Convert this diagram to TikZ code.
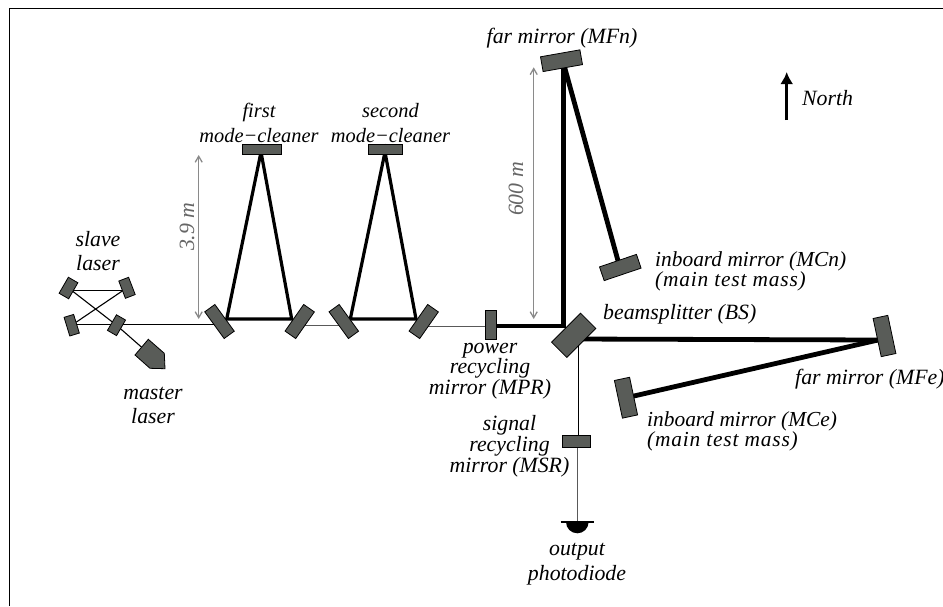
\documentclass[tikz,border=0pt]{standalone}
\usepackage{fontspec}
\setmainfont{Liberation Serif}
\usetikzlibrary{arrows.meta}
\pgfdeclarelayer{beams}
\pgfsetlayers{beams,main}
\definecolor{mirfill}{HTML}{595C58}
\definecolor{dimgray}{HTML}{8A8A8A}
\newcommand{\widelabel}[1]{\addfontfeature{LetterSpace=3.7}#1}
\tikzset{
  mirror/.style={draw=black,line width=0.8pt,fill=mirfill,inner sep=0pt,outer sep=0pt},
  thinbeam/.style={draw=black,line width=1.1pt},
  graybeam/.style={draw=black!65,line width=1.1pt},
  midbeam/.style={draw=black,line width=3.2pt,line join=miter},
  heavybeam/.style={draw=black,line width=4.8pt,line join=miter},
  dimline/.style={draw=dimgray,line width=1.3pt,{Straight Barb[length=6pt,width=7pt]}-{Straight Barb[length=6pt,width=7pt]}},
  lab/.style={font=\itshape\fontsize{21.8}{24.5}\selectfont,align=center,inner sep=0pt},
  labtight/.style={font=\itshape\fontsize{21.8}{19.5}\selectfont,align=center,inner sep=0pt},
  labinboard/.style={font=\itshape\fontsize{21.4}{20}\selectfont,align=left,inner sep=0pt,anchor=west},
  labcleaner/.style={font=\itshape\fontsize{20.4}{25}\selectfont,align=center,inner sep=0pt},
  dimlab/.style={lab,text=black!60,rotate=90}
}
\begin{document}
\begin{tikzpicture}[x=1pt,y=-1pt]
\useasboundingbox (0,0) rectangle (943,606);
% frame
\coordinate (fa) at (9.3,606);
\coordinate (fb) at (9.3,8.7);
\coordinate (fc) at (943,8.7);
\draw[line width=1.1pt] (fa) -- (fb) -- (fc);
% mirrors
\node[mirror,minimum width=39.5pt,minimum height=10pt] (mcat) at (262,149.5) {};
\node[mirror,minimum width=34.5pt,minimum height=10pt] (mcbt) at (385.5,149.5) {};
\node[mirror,minimum width=12.5pt,minimum height=33pt,rotate=36] (mcal) at (219.5,321.5) {};
\node[mirror,minimum width=13pt,minimum height=32.5pt,rotate=-35] (mcar) at (299.7,321.5) {};
\node[mirror,minimum width=12.5pt,minimum height=33pt,rotate=36] (mcbl) at (343.8,321.5) {};
\node[mirror,minimum width=13pt,minimum height=32.5pt,rotate=-35] (mcbr) at (423.7,321.5) {};
\node[mirror,minimum width=11pt,minimum height=18.5pt,rotate=-30] (sa) at (68.5,288) {};
\node[mirror,minimum width=10.5pt,minimum height=18.5pt,rotate=21] (sb) at (127,287.8) {};
\node[mirror,minimum width=10pt,minimum height=19.5pt,rotate=17] (sc) at (71.7,325.2) {};
\node[mirror,minimum width=10.5pt,minimum height=18pt,rotate=-30] (sd) at (116.5,325.2) {};
\node[mirror,minimum width=40pt,minimum height=15pt,rotate=10] (mfn) at (561.5,60.7) {};
\node[mirror,minimum width=39pt,minimum height=14.5pt,rotate=18.7] (mcn) at (620.3,267.5) {};
\node[mirror,minimum width=15pt,minimum height=39pt,rotate=12] (mfe) at (884.5,336) {};
\node[mirror,minimum width=15.5pt,minimum height=38.5pt,rotate=12] (mce) at (626,397.7) {};
\node[mirror,minimum width=11.4pt,minimum height=28.7pt] (mpr) at (491,324.7) {};
\node[mirror,minimum width=28.7pt,minimum height=11.6pt] (msr) at (576.3,441.5) {};
\node[mirror,minimum width=41pt,minimum height=21.5pt,rotate=45] (bs) at (573.7,335.3) {};
% master laser
\coordinate (mast) at (141.7,347.3);
\draw[mirror] (135,355) -- (148.3,339.3) -- (164.3,353.3) -- (165,368.7) -- (150,368.3) -- cycle;
% photodiode
\coordinate (pd) at (577.3,522);
\fill (566,522) arc[start angle=180,end angle=360,radius=11.3pt] -- cycle;
\draw[line width=1.5pt] (560.7,522) -- (594.3,522);
% beam end points
\coordinate (ha) at (226.7,319);
\coordinate (hb) at (291.7,319);
\coordinate (hc) at (350.3,319);
\coordinate (hd) at (416,319);
\coordinate (he) at (261,152);
\coordinate (hf) at (385,152);
\coordinate (mprh) at (491,326);
\coordinate (corner) at (563.7,326);
\coordinate (nt) at (563.7,64);
\coordinate (east) at (878,340);
\coordinate (bse) at (573.7,339);
\coordinate (sal) at (68.5,290.3);
\coordinate (sbl) at (127,290.3);
\coordinate (scl) at (71.7,324.3);
\coordinate (sdl) at (116.5,324.3);
\coordinate (ial) at (219.5,324.3);
\coordinate (g1a) at (299.7,325.7);
\coordinate (g1b) at (343.8,325.7);
\coordinate (g2a) at (423.7,326.3);
\coordinate (g2b) at (491,326.3);
\coordinate (bsd) at (578.7,340);
\coordinate (msra) at (578.7,441.5);
\coordinate (msrb) at (577.3,441.5);
\begin{pgfonlayer}{beams}
\draw[midbeam] (ha) -- (he) -- (hb) -- cycle;
\draw[midbeam] (hc) -- (hf) -- (hd) -- cycle;
\draw[heavybeam] (mprh) -- (corner) -- (nt);
\draw[heavybeam] (nt) -- (mcn.north);
\draw[heavybeam] (bse) -- (east);
\draw[heavybeam] (east) -- (mce.east);
\draw[thinbeam] (sal) -- (sbl);
\draw[thinbeam] (scl) -- (sdl);
\draw[thinbeam] (sdl) -- (ial);
\draw[thinbeam] (sa) -- (sd);
\draw[thinbeam] (sc) -- (sb);
\draw[thinbeam] (sd) -- (mast);
\draw[graybeam] (g1a) -- (g1b);
\draw[graybeam] (g2a) -- (g2b);
\draw[thinbeam] (bsd) -- (msra);
\draw[graybeam] (msrb) -- (pd);
\end{pgfonlayer}
% dimensions
\coordinate (da) at (198.7,155);
\coordinate (db) at (198.7,319);
\coordinate (dc) at (533.7,67.3);
\coordinate (dd) at (533.7,319);
\draw[dimline] (da) -- (db);
\draw[dimline] (dc) -- (dd);
\node[dimlab] (l39) at (187,226.7) {3.9 m};
\node[dimlab] (l600) at (516,189) {600 m};
% north
\coordinate (na) at (786.7,120);
\coordinate (nb) at (786.7,72);
\draw[line width=2.8pt,-{Latex[length=12pt,width=13pt]}] (na) -- (nb);
\node[lab,anchor=west] (north) at (802,98) {North};
% labels
\node[lab] (lmfn) at (562,38) {far mirror (MFn)};
\node[labcleaner] (l1) at (259,123) {first\\mode−cleaner};
\node[labcleaner] (l2) at (390.5,123) {second\\mode−cleaner};
\node[lab] (lsl) at (98,251) {slave\\laser};
\node[lab] (lml) at (153,405.5) {master\\laser};
\node[labtight] (lmpr) at (490,371) {power\\recycling\\mirror (MPR)};
\node[labtight] (lmsr) at (509.5,446.5) {signal\\recycling\\mirror (MSR)};
\node[lab] (lpd) at (577,564) {output\\photodiode};
\node[lab,anchor=west] (lbs) at (603,314) {beamsplitter (BS)};
\node[labinboard] (lmcn) at (655,271.5) {inboard mirror (MCn)\\\widelabel{(main test mass)}};
\node[labinboard] (lmce) at (647,431) {inboard mirror (MCe)\\\widelabel{(main test mass)}};
\node[lab,anchor=west] (lmfe) at (795,379) {far mirror (MFe)};
\end{tikzpicture}
\end{document}
